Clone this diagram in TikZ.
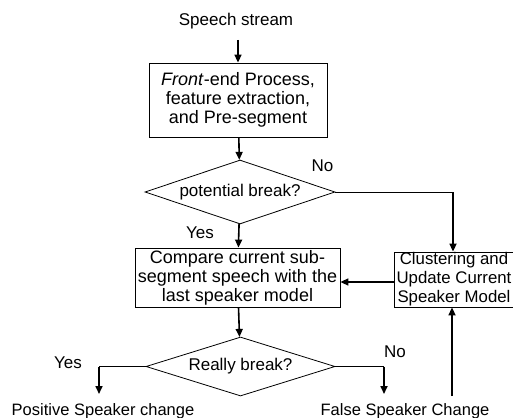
\documentclass[tikz,border=0pt]{standalone}
\usepackage{fontspec}
\setmainfont{Liberation Sans}
\usetikzlibrary{arrows.meta, shapes.geometric}

\begin{document}
\begin{tikzpicture}[x=1pt, y=-1pt, >={Triangle[length=8pt,width=7pt]},
  box/.style={draw, line width=0.8pt, align=center, inner sep=0pt, font=\fontsize{18}{19}\selectfont},
  decision/.style={draw, diamond, aspect=3, line width=0.8pt, inner sep=0pt, font=\fontsize{17}{20}\selectfont},
  lbl/.style={inner sep=0pt, font=\fontsize{17}{20}\selectfont},
  flow/.style={->, line width=1.6pt},
  link/.style={line width=0.8pt}]
  \useasboundingbox (0,0) rectangle (513,417);
  \node[lbl] (speech) at (236,21) {Speech stream};
  \node[box, minimum width=178, minimum height=74] (front) at (238,100) {\textit{Front}-end Process,\\feature extraction,\\and Pre-segment};
  \node[decision, minimum width=190, minimum height=64] (pbreak) at (240,192) {potential break?};
  \node[box, minimum width=205, minimum height=59] (compare) at (237.5,277.5) {Compare current sub-\\segment speech with the\\last speaker model};
  \node[box, minimum width=120, minimum height=55, font=\fontsize{16.8}{19}\selectfont] (cluster) at (454,279.5) {Clustering and\\Update Current\\Speaker Model};
  \node[decision, minimum width=189, minimum height=59] (rbreak) at (240.5,366.5) {Really break?};
  \node[lbl, anchor=base, font=\fontsize{16.5}{20}\selectfont] (positive) at (103,415) {Positive Speaker change};
  \node[lbl, anchor=base, font=\fontsize{16.5}{20}\selectfont] (false) at (405,415) {False Speaker Change};
  % branch labels
  \node[lbl] (pno) at (322.5,166) {No};
  \node[lbl] (pyes) at (200,233) {Yes};
  \node[lbl] (ryes) at (68,363) {Yes};
  \node[lbl] (rno) at (395,352) {No};
  % connectors
  \coordinate (start) at (238,40);
  \draw[flow] (start) -- (start |- front.north);
  \draw[flow] (front) -- (pbreak);
  \draw[flow] (pbreak) -- (compare);
  \draw[flow] (compare) -- (rbreak);
  \coordinate (pturn) at (453,192);
  \draw[link] (pbreak.east) -- (pturn);
  \draw[flow] (pturn) -- (pturn |- cluster.north);
  \draw[flow] ([yshift=-2.5pt]cluster.west) -- ([yshift=-2.5pt]cluster.west -| compare.east);
  \coordinate (lturn) at (99,366.5);
  \coordinate (rturn) at (384,366.5);
  \draw[link] (rbreak.west) -- (lturn);
  \draw[flow] (lturn) -- (99,394);
  \draw[link] (rbreak.east) -- (rturn);
  \draw[flow] (rturn) -- (384,394);
  \coordinate (back) at (452,396);
  \draw[flow] (back) -- (back |- cluster.south);
\end{tikzpicture}
\end{document}
